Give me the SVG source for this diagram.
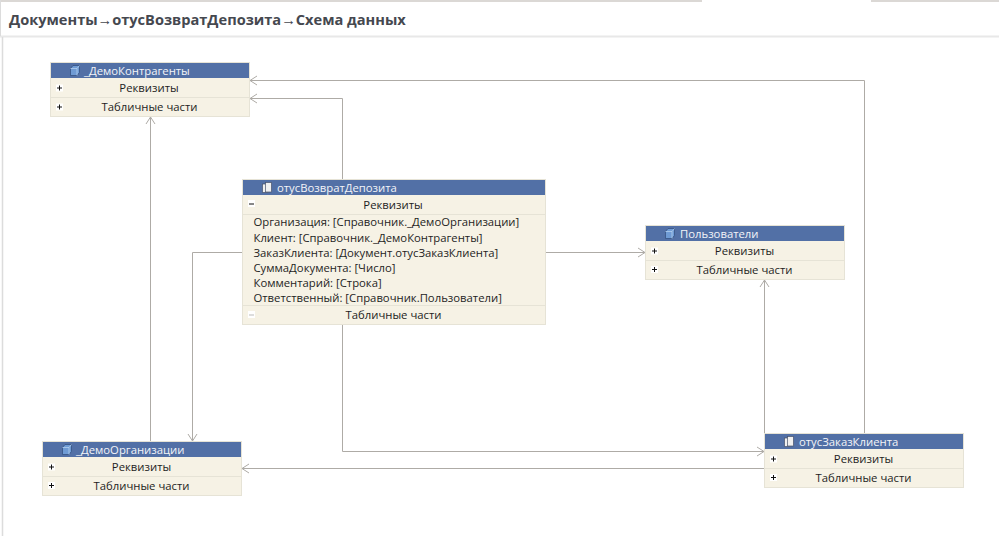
<svg xmlns="http://www.w3.org/2000/svg" width="999" height="536" viewBox="0 0 999 536">
<style>
text{font-family:"Open Sans","Noto Sans","Liberation Sans",sans-serif;font-size:11.3px;fill:#1e1e1e}
.title{font-family:"Open Sans","Noto Sans",sans-serif;font-size:14.6px;font-weight:700;fill:#45484f}
.h{fill:#f2f4f8}
.c{text-anchor:middle}
.body{fill:#f6f2e5;stroke:#e6e3d6;stroke-width:1}
.head{fill:#5270a6}
.sep{stroke:#e6e3d6;stroke-width:1;fill:none}
.con{fill:none;stroke:#aeaba6;stroke-width:1;marker-end:url(#arr)}
.frame{fill:none;stroke:#cfcbc8;stroke-width:1.5}
.pm{fill:#fff}
.pmv{stroke:#111;stroke-width:1;fill:none}
.cyl{fill:#6f9bd4;stroke:#2f4a78;stroke-width:.7}
.doc{fill:#f0f0f0;stroke:#47526a;stroke-width:.7}
</style>
<defs>
<marker id="arr" markerUnits="userSpaceOnUse" markerWidth="12" markerHeight="12" refX="10" refY="6" orient="auto">
<path d="M3 1.5L10 6L3 10.5M10 6H1" fill="none" stroke="#aeaba6" stroke-width="1"/>
</marker>
<g id="cube"><path class="cyl" d="M0.5 3.5L3 0.5H9.5V7.5L7 10.5H0.5Z"/><path d="M0.5 3.5H7V10.5M7 3.5L9.5 0.5" fill="none" stroke="#bcd5f0" stroke-width=".7"/></g>
<g id="docs"><rect class="doc" x="0.5" y="2" width="6" height="8.5"/><rect class="doc" x="3.5" y="0.5" width="6" height="9.5"/></g>
<g id="plus"><rect class="pm" x="-3.5" y="-3.5" width="7" height="7"/><path class="pmv" d="M-2.5 0H2.5M0-2.5V2.5"/></g>
</defs>
<rect width="999" height="536" fill="#fff"/>
<g id="frame">
<path class="frame" d="M0 1H702M871 1H999"/>
<path d="M0 36.5H999" stroke="#e8e8e8" stroke-width="2" fill="none"/>
<path d="M2.5 37V536" stroke="#dcdcdc" stroke-width="1.5" fill="none"/>
<path d="M0.5 0V36" stroke="#dcdcdc" stroke-width="1" fill="none"/>
</g>
<text id="title" class="title" x="9" y="25">Документы→отусВозвратДепозита→Схема данных</text>
<g id="connectors">
<path class="con" d="M864.5 433V80.5H250"/>
<path class="con" d="M342.5 179V98.500H250"/>
<path class="con" d="M150.500 441V117"/>
<path class="con" d="M242 252.500H192.500V441"/>
<path class="con" d="M546 252.500H645"/>
<path class="con" d="M342.500 325V451.500H764"/>
<path class="con" d="M764.500 433V280"/>
<path class="con" d="M764 468.500H242"/>
</g>
<g id="node-demo-contragents">
<rect class="body" x="50.500" y="62.500" width="199" height="54"/>
<rect class="head" x="51" y="63" width="198" height="15"/>
<use href="#cube" x="70" y="65"/>
<text class="h" x="84" y="75">_ДемоКонтрагенты</text>
<path class="sep" d="M51 97.500H249"/>
<use href="#plus" x="59.500" y="88"/><use href="#plus" x="59.500" y="107"/>
<text class="c" x="149" y="92">Реквизиты</text>
<text class="c" x="149.500" y="111">Табличные части</text>
</g>
<g id="node-vozvrat">
<rect class="body" x="242.500" y="179.500" width="303" height="145"/>
<rect class="head" x="243" y="180" width="302" height="15"/>
<use href="#docs" x="262" y="182"/>
<text class="h" x="277" y="192">отусВозвратДепозита</text>
<path class="sep" d="M243 214.500H545M243 305.500H545"/>
<rect class="pm" x="248" y="200" width="7" height="7"/><path class="pmv" d="M249 204H254"/>
<text class="c" x="393" y="209">Реквизиты</text>
<text x="253.500" y="226">Организация: [Справочник._ДемоОрганизации]</text>
<text x="253.500" y="242">Клиент: [Справочник._ДемоКонтрагенты]</text>
<text x="253.500" y="257">ЗаказКлиента: [Документ.отусЗаказКлиента]</text>
<text x="253.500" y="272">СуммаДокумента: [Число]</text>
<text x="253.500" y="287">Комментарий: [Строка]</text>
<text x="253.500" y="302">Ответственный: [Справочник.Пользователи]</text>
<rect class="pm" x="248" y="311" width="7" height="7"/><path d="M249 315H254" stroke="#bbb" fill="none"/>
<text class="c" x="393.500" y="319">Табличные части</text>
</g>
<g id="node-users">
<rect class="body" x="645.500" y="225.500" width="199" height="54"/>
<rect class="head" x="646" y="226" width="198" height="15"/>
<use href="#cube" x="665" y="228"/>
<text class="h" x="680" y="238">Пользователи</text>
<path class="sep" d="M646 260.500H844"/>
<use href="#plus" x="654.500" y="251"/><use href="#plus" x="654.500" y="269.500"/>
<text class="c" x="744.500" y="255">Реквизиты</text>
<text class="c" x="744.500" y="274">Табличные части</text>
</g>
<g id="node-demo-org">
<rect class="body" x="42.500" y="441.500" width="199" height="54"/>
<rect class="head" x="43" y="442" width="198" height="15"/>
<use href="#cube" x="62" y="444"/>
<text class="h" x="76" y="454">_ДемоОрганизации</text>
<path class="sep" d="M43 476.500H241"/>
<use href="#plus" x="51.500" y="467"/><use href="#plus" x="51.500" y="485.500"/>
<text class="c" x="141.500" y="471">Реквизиты</text>
<text class="c" x="141.500" y="490">Табличные части</text>
</g>
<g id="node-zakaz">
<rect class="body" x="764.500" y="433.500" width="199" height="54"/>
<rect class="head" x="765" y="434" width="198" height="15"/>
<use href="#docs" x="784" y="436"/>
<text class="h" x="799" y="446">отусЗаказКлиента</text>
<path class="sep" d="M765 468.500H963"/>
<use href="#plus" x="773.500" y="459"/><use href="#plus" x="773.500" y="477.500"/>
<text class="c" x="863.500" y="463">Реквизиты</text>
<text class="c" x="863.500" y="482">Табличные части</text>
</g>
</svg>
